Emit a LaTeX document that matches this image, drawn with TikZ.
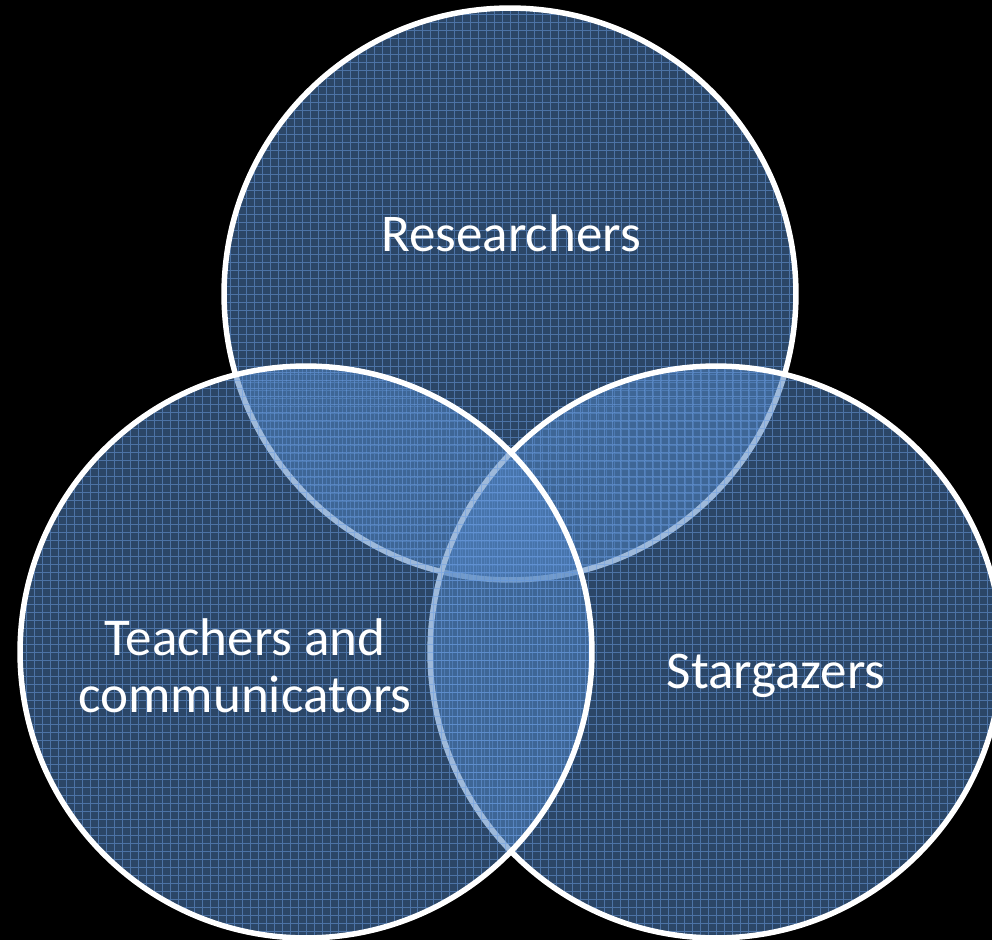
\documentclass[tikz,border=0pt]{standalone}
\usepackage{fontspec}
\setmainfont{Carlito}
\usepackage{tikz}

\definecolor{setblue}{RGB}{79,129,189}
\definecolor{gridblue}{RGB}{110,160,230}

\begin{document}
\begin{tikzpicture}[x=0.02cm, y=-0.02cm]
    \tikzstyle{set}=[circle, minimum size=11.44cm, inner sep=0pt,
        fill=setblue, fill opacity=0.55, draw=white, draw opacity=1, line width=0.11cm,
        path picture={
            \draw[gridblue, opacity=0.5, line width=0.55pt, step=0.16cm]
                (path picture bounding box.south west) grid (path picture bounding box.north east);
        }]
    \tikzstyle{setname}=[text=white, font=\fontsize{30.2pt}{32.4pt}\selectfont, align=center]

    % Black background, fixes the size of the page
    \fill[black] (0,0) rectangle (992,940);
    \useasboundingbox (0,0) rectangle (992,940);

    % Draw the three circles, top first, then right, then left
    \foreach \name / \x / \y in {R/510/294, S/716/652, T/306/652}
        \node[set] (\name) at (\x,\y) {};

    % Name the sets
    \node[setname, anchor=base] (R-name) at (511,251) {Researchers};
    \node[setname, anchor=base] (S-name) at (776,688) {Stargazers};
    \node[setname, anchor=base] (T-name) at (245,712) {Teachers and\\communicators};
\end{tikzpicture}
\end{document}
